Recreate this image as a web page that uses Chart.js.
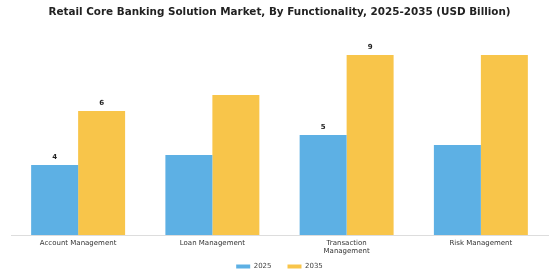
<!DOCTYPE html>
<html>
<head>
<meta charset="utf-8">
<script src="https://cdn.jsdelivr.net/npm/chart.js@4.4.1/dist/chart.umd.min.js"></script>
<style>
html,body{margin:0;padding:0;background:#fff;}
#wrap{width:560px;height:280px;position:relative;}
</style>
</head>
<body>
<div id="wrap"><canvas id="c" width="560" height="280"></canvas></div>
<script>
const categories = [["Account Management"], ["Loan Management"], ["Transaction", "Management"], ["Risk Management"]];
const series2025 = [3.5, 4.0, 5.0, 4.5];
const series2035 = [6.2, 7.0, 9.0, 9.0];
const seriesNames = ["2025", "2035"];
const labeledCategories = [0, 2];
const yMax = 10;

const FONT = "'DejaVu Sans', sans-serif";

const valueLabels = {
  id: 'valueLabels',
  afterLayout(chart) {
    // let the second line of wrapped tick labels show below the compact axis box
    chart.scales.x.bottom += 12;
  },
  afterDatasetsDraw(chart) {
    const ctx = chart.ctx;
    ctx.save();
    ctx.font = "bold 7px " + FONT;
    ctx.fillStyle = '#222';
    ctx.textAlign = 'center';
    ctx.textBaseline = 'middle';
    chart.data.datasets.forEach((ds, di) => {
      const meta = chart.getDatasetMeta(di);
      labeledCategories.forEach(i => {
        const bar = meta.data[i];
        ctx.fillText(String(Math.round(ds.data[i])), bar.x, bar.y - 8);
      });
    });
    ctx.restore();
  }
};

new Chart(document.getElementById('c'), {
  type: 'bar',
  data: {
    labels: categories,
    datasets: [
      { label: seriesNames[0], data: series2025, backgroundColor: '#5DB0E4' },
      { label: seriesNames[1], data: series2035, backgroundColor: '#F8C54A' }
    ]
  },
  options: {
    responsive: false,
    animation: false,
    devicePixelRatio: 1,
    layout: { padding: { left: 11, right: 12, top: 0, bottom: 0 } },
    plugins: {
      title: {
        display: true,
        text: 'Retail Core Banking Solution Market, By Functionality, 2025-2035 (USD Billion)',
        font: { family: FONT, size: 10.4, weight: 'bold' },
        color: '#222',
        padding: { top: 6, bottom: 16.5 }
      },
      legend: {
        position: 'bottom',
        labels: {
          font: { family: FONT, size: 7 },
          color: '#444',
          boxWidth: 14,
          boxHeight: 4,
          padding: 16
        }
      },
      tooltip: { enabled: false }
    },
    scales: {
      x: {
        grid: { display: false, drawTicks: false },
        border: { display: true, color: '#dddddd', width: 1 },
        ticks: { font: { family: FONT, size: 7 }, color: '#333', padding: 4, maxRotation: 0, autoSkip: false },
        afterFit(scale) { scale.height = 12; }
      },
      y: {
        display: false,
        min: 0,
        max: yMax
      }
    },
    datasets: { bar: { categoryPercentage: 0.7, barPercentage: 1.0 } }
  },
  plugins: [valueLabels]
});
</script>
</body>
</html>
